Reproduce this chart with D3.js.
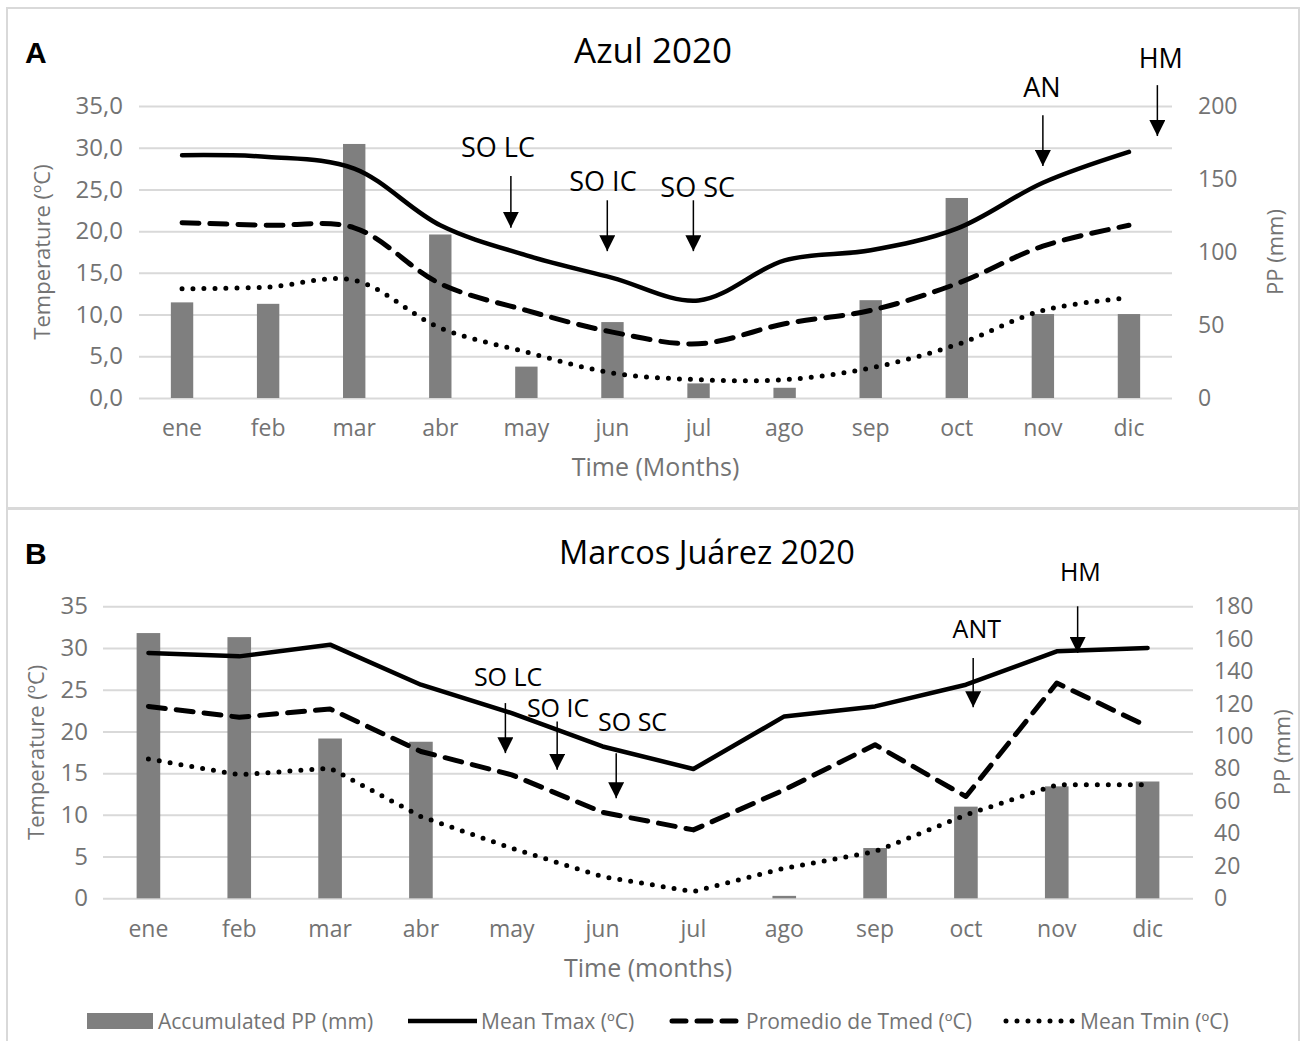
<!DOCTYPE html>
<html>
<head>
<meta charset="utf-8">
<script src="https://cdn.jsdelivr.net/npm/d3@7"></script>
<style>
  html, body { margin: 0; padding: 0; background: #fff; }
  svg { display: block; font-family: "Open Sans", sans-serif; }
</style>
</head>
<body>
<svg id="chart" width="1307" height="1041"></svg>
<script>
// Months (Spanish abbreviations)
const months = ["ene", "feb", "mar", "abr", "may", "jun", "jul", "ago", "sep", "oct", "nov", "dic"];

// Azul 2020
const ppAzul   = [65.5, 64.5, 174, 112, 21.5, 52, 10, 7, 67, 137, 57.5, 57.5];
const tmaxAzul = [29.1, 28.9, 27.5, 20.7, 17.1, 14.4, 11.7, 16.5, 17.7, 20.3, 25.8, 29.5];
const tmedAzul = [21.0, 20.7, 20.4, 13.7, 10.5, 7.9, 6.5, 8.9, 10.5, 13.7, 18.2, 20.7];
const tminAzul = [13.1, 13.3, 14.1, 8.4, 5.5, 3.0, 2.2, 2.2, 3.6, 6.4, 10.5, 12.0];

// Marcos Juárez 2020
const ppMJ   = [163.5, 161, 98.5, 96.5, 0, 0, 0, 1.5, 31, 56.5, 69, 72];
const tmaxMJ = [29.4, 29.0, 30.4, 25.6, 22.2, 18.2, 15.5, 21.8, 23.0, 25.6, 29.6, 30.0];
const tmedMJ = [23.0, 21.7, 22.7, 17.6, 14.8, 10.3, 8.2, 13.0, 18.4, 12.2, 25.8, 20.6];
const tminMJ = [16.7, 14.8, 15.6, 9.8, 6.0, 2.6, 0.8, 3.6, 5.6, 10.0, 13.6, 13.6];

// Axis ticks
const tempTicks   = [0, 5, 10, 15, 20, 25, 30, 35];
const ppTicksAzul = [0, 50, 100, 150, 200];
const ppTicksMJ   = [0, 20, 40, 60, 80, 100, 120, 140, 160, 180];

// Crop-stage markers: position in month units (0 = ene), arrow from/to in °C
const stagesAzul = [
  { label: "SO LC", textAt: 3.67, textY: 28.9, at: 3.82, from: 26.6, to: 20.4 },
  { label: "SO IC", textAt: 4.89, textY: 24.8, at: 4.94, from: 23.7, to: 17.6 },
  { label: "SO SC", textAt: 5.99, textY: 24.1, at: 5.94, from: 23.7, to: 17.6 },
  { label: "AN",    textAt: 9.99, textY: 36.1, at: 10.0, from: 33.9, to: 27.8 },
  { label: "HM",    textAt: 11.37, textY: 39.6, at: 11.33, from: 37.5, to: 31.4 }
];
const stagesMJ = [
  { label: "SO LC", textAt: 3.96, textY: 25.4, at: 3.93, from: 23.4, to: 17.4 },
  { label: "SO IC", textAt: 4.51, textY: 21.7, at: 4.50, from: 21.2, to: 15.4 },
  { label: "SO SC", textAt: 5.33, textY: 20.1, at: 5.15, from: 17.4, to: 12.0 },
  { label: "ANT",   textAt: 9.12, textY: 31.2, at: 9.08, from: 28.8, to: 22.9 },
  { label: "HM",    textAt: 10.26, textY: 38.0, at: 10.23, from: 35.0, to: 29.4 }
];

const esLocale = d3.formatLocale({ decimal: ",", thousands: ".", grouping: [3], currency: ["", "€"] });

const svg = d3.select("#chart");
svg.append("rect").attr("width", 1307).attr("height", 1041).attr("fill", "#fff");

const defs = svg.append("defs");
defs.append("marker")
  .attr("id", "arrowhead")
  .attr("viewBox", "0 0 10 10")
  .attr("refX", 10).attr("refY", 5)
  .attr("markerUnits", "userSpaceOnUse")
  .attr("markerWidth", 16).attr("markerHeight", 16)
  .attr("orient", "auto")
  .append("path").attr("d", "M0,0 L10,5 L0,10 Z").attr("fill", "#000");

const GRID = "#d9d9d9", TICK_TXT = "#737373", BAR = "#7f7f7f";

const lineStyles = {
  tmax: { width: 4.5, dash: null },
  tmed: { width: 5, dash: "17 11" },
  tmin: { width: 5, dash: "0 11" }
};

function drawPanel(p) {
  const g = svg.append("g");

  // panel frame
  g.append("rect")
    .attr("x", p.frame[0]).attr("y", p.frame[1])
    .attr("width", p.frame[2]).attr("height", p.frame[3])
    .attr("fill", "none").attr("stroke", GRID).attr("stroke-width", 2);

  const x = d3.scaleBand().domain(months).range([p.x0, p.x1]).paddingInner(0.74).paddingOuter(0.37);
  const cx = m => x(m) + x.bandwidth() / 2;
  const xi = d3.scaleLinear().domain([-0.5, 11.5]).range([p.x0, p.x1]);
  const yT = d3.scaleLinear().domain([0, 35]).range([p.y0, p.y1]);
  const yP = d3.scaleLinear().domain([0, p.ppMax]).range([p.y0, p.y1]);

  // gridlines
  const grid = g.append("g").attr("transform", `translate(${p.x0},0)`)
    .call(d3.axisLeft(yT).tickValues(tempTicks).tickSize(-(p.x1 - p.x0)).tickFormat(""));
  grid.select(".domain").remove();
  grid.selectAll(".tick line").attr("stroke", GRID).attr("stroke-width", 2);

  // left axis labels
  const left = g.append("g").attr("transform", `translate(${p.x0},0)`)
    .call(d3.axisLeft(yT).tickValues(tempTicks).tickSize(0).tickPadding(p.leftPad).tickFormat(p.tempFmt));
  left.select(".domain").remove();
  left.selectAll("text").attr("font-family", "Open Sans").attr("font-size", 24).attr("fill", TICK_TXT);

  // right axis labels
  const right = g.append("g").attr("transform", `translate(${p.x1},0)`)
    .call(d3.axisRight(yP).tickValues(p.ppTicks).tickSize(0).tickPadding(p.rightPad).tickFormat(d3.format("d")));
  right.select(".domain").remove();
  right.selectAll("text").attr("font-family", "Open Sans").attr("font-size", 23).attr("fill", TICK_TXT);

  // month labels
  const bottom = g.append("g").attr("transform", `translate(0,${p.y0})`)
    .call(d3.axisBottom(x).tickSize(0).tickPadding(p.bottomPad));
  bottom.select(".domain").remove();
  bottom.selectAll("text").attr("font-family", "Open Sans").attr("font-size", 23).attr("fill", TICK_TXT);

  // precipitation bars
  g.append("g").selectAll("rect").data(months).join("rect")
    .attr("x", m => x(m)).attr("width", x.bandwidth())
    .attr("y", (m, i) => yP(p.pp[i]))
    .attr("height", (m, i) => p.y0 - yP(p.pp[i]))
    .attr("fill", BAR);

  // temperature lines
  const line = d3.line().x((d, i) => cx(months[i])).y(d => yT(d)).curve(p.curve);
  [["tmax", p.tmax], ["tmed", p.tmed], ["tmin", p.tmin]].forEach(([key, vals]) => {
    const s = lineStyles[key];
    g.append("path").datum(vals)
      .attr("d", line).attr("fill", "none").attr("stroke", "#000")
      .attr("stroke-width", s.width)
      .attr("stroke-linecap", "round").attr("stroke-linejoin", "round")
      .attr("stroke-dasharray", s.dash);
  });

  // crop-stage arrows
  const st = g.append("g");
  p.stages.forEach(s => {
    st.append("line")
      .attr("x1", xi(s.at)).attr("x2", xi(s.at))
      .attr("y1", yT(s.from)).attr("y2", yT(s.to))
      .attr("stroke", "#000").attr("stroke-width", 1.5)
      .attr("marker-end", "url(#arrowhead)");
    st.append("text")
      .attr("x", xi(s.textAt)).attr("y", yT(s.textY))
      .attr("text-anchor", "middle")
      .attr("font-family", "Open Sans").attr("font-size", p.stageFont).attr("fill", "#000")
      .text(s.label);
  });

  // titles
  g.append("text").attr("x", p.frame[0] + 18).attr("y", p.labelY)
    .attr("font-family", "Liberation Sans, Arial, sans-serif").attr("font-weight", "bold")
    .attr("font-size", 30).attr("fill", "#000").text(p.letter);
  g.append("text").attr("x", p.titleX).attr("y", p.titleY).attr("text-anchor", "middle")
    .attr("font-family", "Open Sans").attr("font-size", p.titleFont).attr("fill", "#000").text(p.title);

  // axis titles
  g.append("text").attr("transform", `translate(${p.leftTitleX},${(p.y0 + p.y1) / 2}) rotate(-90)`)
    .attr("text-anchor", "middle").attr("dominant-baseline", "central")
    .attr("font-family", "Open Sans").attr("font-size", 22).attr("fill", TICK_TXT)
    .text("Temperature (ºC)");
  g.append("text").attr("transform", `translate(${p.rightTitleX},${(p.y0 + p.y1) / 2}) rotate(-90)`)
    .attr("text-anchor", "middle").attr("dominant-baseline", "central")
    .attr("font-family", "Open Sans").attr("font-size", 22).attr("fill", TICK_TXT)
    .text("PP (mm)");
  g.append("text").attr("x", (p.x0 + p.x1) / 2).attr("y", p.xTitleY).attr("text-anchor", "middle")
    .attr("font-family", "Open Sans").attr("font-size", 25).attr("fill", TICK_TXT)
    .text(p.xTitle);
}

drawPanel({
  frame: [7, 8, 1292, 500],
  x0: 139, x1: 1172, y0: 398, y1: 106,
  ppMax: 200, ppTicks: ppTicksAzul,
  tempFmt: esLocale.format(".1f"),
  leftPad: 16, rightPad: 26, bottomPad: 22,
  pp: ppAzul, tmax: tmaxAzul, tmed: tmedAzul, tmin: tminAzul,
  curve: d3.curveCatmullRom.alpha(0.5),
  stages: stagesAzul, stageFont: 27,
  letter: "A", labelY: 63,
  title: "Azul 2020", titleX: 653, titleY: 63, titleFont: 35,
  leftTitleX: 41, rightTitleX: 1274,
  xTitle: "Time (Months)", xTitleY: 476
});

drawPanel({
  frame: [7, 509, 1292, 560],
  x0: 103, x1: 1193, y0: 898.3, y1: 606.3,
  ppMax: 180, ppTicks: ppTicksMJ,
  tempFmt: d3.format("d"),
  leftPad: 15, rightPad: 21, bottomPad: 22,
  pp: ppMJ, tmax: tmaxMJ, tmed: tmedMJ, tmin: tminMJ,
  curve: d3.curveLinear,
  stages: stagesMJ, stageFont: 25,
  letter: "B", labelY: 564,
  title: "Marcos Juárez 2020", titleX: 707, titleY: 564, titleFont: 32.5,
  leftTitleX: 35, rightTitleX: 1281,
  xTitle: "Time (months)", xTitleY: 977
});

// legend
const lg = svg.append("g");
const legY = 1021;
lg.append("rect").attr("x", 87).attr("y", legY - 8).attr("width", 66).attr("height", 16).attr("fill", BAR);
const legendItems = [
  { key: null, text: "Accumulated PP (mm)", tx: 158 },
  { key: "tmax", text: "Mean Tmax (ºC)", lx: [408, 477], tx: 481 },
  { key: "tmed", text: "Promedio de Tmed (ºC)", lx: [672, 736], tx: 746 },
  { key: "tmin", text: "Mean Tmin (ºC)", lx: [1006, 1073], tx: 1080 }
];
legendItems.forEach(it => {
  if (it.key) {
    const s = lineStyles[it.key];
    lg.append("line").attr("x1", it.lx[0]).attr("x2", it.lx[1]).attr("y1", legY).attr("y2", legY)
      .attr("stroke", "#000").attr("stroke-width", s.width)
      .attr("stroke-linecap", it.key === "tmax" ? "butt" : "round")
      .attr("stroke-dasharray", it.key === "tmed" ? "14 11" : s.dash);
  }
  lg.append("text").attr("x", it.tx).attr("y", legY).attr("dominant-baseline", "central")
    .attr("font-family", "Open Sans").attr("font-size", 21).attr("fill", TICK_TXT)
    .text(it.text);
});
</script>
</body>
</html>
